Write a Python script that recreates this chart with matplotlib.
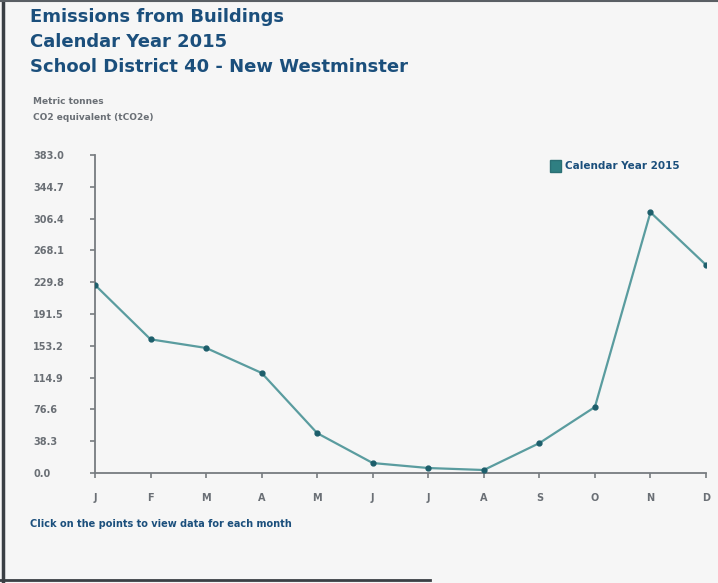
import numpy as np
import matplotlib
matplotlib.use("Agg")
import matplotlib.pyplot as plt
from matplotlib.patches import Patch
from matplotlib.lines import Line2D

# data
months = ["J", "F", "M", "A", "M", "J", "J", "A", "S", "O", "N", "D"]
emissions = [226.5, 161.0, 150.6, 120.5, 48.0, 12.0, 6.0, 3.6, 36.0, 79.5, 314.0, 250.6]
ytick_vals = [0.0, 38.3, 76.6, 114.9, 153.2, 191.5, 229.8, 268.1, 306.4, 344.7, 383.0]
title_lines = ["Emissions from Buildings", "Calendar Year 2015",
               "School District 40 - New Westminster"]
series_name = "Calendar Year 2015"

BG = "#f6f6f6"
NAVY = "#1b4f7c"
LINE = "#5a9c9f"
MARK = "#1d5e6b"
GREY = "#6a6f75"

fig = plt.figure(figsize=(7.18, 5.83), dpi=100, facecolor=BG)
W, H = 718.0, 583.0

# axes placed in pixel units of the reference
left, right, top, bottom = 95, 706, 155, 473
ax = fig.add_axes([left / W, 1 - bottom / H, (right - left) / W, (bottom - top) / H])
ax.set_facecolor(BG)

x = np.arange(len(months))
ax.plot(x, emissions, color=LINE, lw=1.6, zorder=2)
ax.plot(x, emissions, "o", color=MARK, ms=3.5, zorder=3)

ax.set_xlim(0, 11)
ax.set_ylim(0, 383.0)
ax.set_xticks(x)
ax.set_xticklabels(months)
ax.set_yticks(ytick_vals)
ax.set_yticklabels(["%.1f" % v for v in ytick_vals])

for s in ["top", "right"]:
    ax.spines[s].set_visible(False)
for s in ["left", "bottom"]:
    ax.spines[s].set_color("#777c80")
    ax.spines[s].set_linewidth(1.3)

# y labels start at x=33 px, left aligned
ax.tick_params(axis="y", direction="out", length=3.6, width=1.2, color="#777c80",
               labelsize=7, labelcolor=GREY, pad=41)
ax.tick_params(axis="x", direction="out", length=3.6, width=1.2, color="#777c80",
               labelsize=7, labelcolor=GREY, pad=11)
for lab in ax.get_yticklabels() + ax.get_xticklabels():
    lab.set_fontweight("bold")
for lab in ax.get_yticklabels():
    lab.set_horizontalalignment("left")

# legend
handle = Patch(facecolor="#2f7f82", edgecolor="#2a6f74")
leg = fig.legend([handle], [series_name], loc="center left",
                 bbox_to_anchor=(541 / W, 1 - 166 / H), frameon=False,
                 handlelength=1.0, handleheight=1.4, handletextpad=0.4,
                 prop={"size": 7.5, "weight": "bold"})
for t in leg.get_texts():
    t.set_color(NAVY)

# titles
for i, line in enumerate(title_lines):
    fig.text(30 / W, 1 - (17 + i * 25) / H, line, fontsize=13, fontweight="heavy",
             color=NAVY, va="center", ha="left")

fig.text(33 / W, 1 - 101 / H, "Metric tonnes", fontsize=6.5, color=GREY,
         fontweight="bold", va="center")
fig.text(33 / W, 1 - 118 / H, "CO2 equivalent (tCO2e)", fontsize=6.5, color=GREY,
         fontweight="bold", va="center")

fig.text(30 / W, 1 - 524 / H, "Click on the points to view data for each month",
         fontsize=7, color=NAVY, fontweight="bold", va="center")

# scanned frame edges
fig.add_artist(Line2D([3 / W, 3 / W], [0, 1], transform=fig.transFigure,
                      color="#3a3f44", lw=2.5))
fig.add_artist(Line2D([0, 430 / W], [3 / H, 3 / H], transform=fig.transFigure,
                      color="#3a3f44", lw=2.0))
fig.add_artist(Line2D([0, 1], [1 - 1 / H, 1 - 1 / H], transform=fig.transFigure,
                      color="#5a5f64", lw=1.5))

fig.savefig("out.png", dpi=100, facecolor=BG)
